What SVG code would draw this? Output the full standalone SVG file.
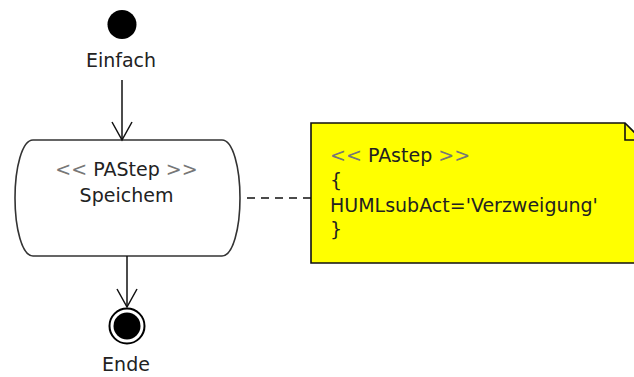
<svg xmlns="http://www.w3.org/2000/svg" width="634" height="377" viewBox="0 0 634 377">
<style>
text{font-family:"DejaVu Sans","Liberation Sans",sans-serif;font-size:19px;fill:#222}
.st{fill:#777}
.edge{stroke:#111;stroke-width:1.5;fill:none}
</style>
<defs>
<marker id="open" viewBox="-20 -11 22 22" refX="0" refY="0" markerWidth="22" markerHeight="22" markerUnits="userSpaceOnUse" orient="auto">
<path d="M-18,-10 L0,0 L-18,10" fill="none" stroke="#111" stroke-width="1.5"/>
</marker>
</defs>
<rect width="634" height="377" fill="#fff"/>
<g id="start">
<circle cx="122" cy="24.5" r="14.5" fill="#000"/>
<text x="121" y="67" text-anchor="middle">Einfach</text>
</g>
<g id="action">
<path d="M33,140 H222 C233,140 240,168 240,198 C240,228 233,256 222,256 H33 C22,256 15,228 15,198 C15,168 22,140 33,140 Z" fill="#fff" stroke="#333" stroke-width="1.6"/>
<text x="126.5" y="176" text-anchor="middle"><tspan class="st">&lt;&lt;</tspan> PAStep <tspan class="st">&gt;&gt;</tspan></text>
<text x="126.5" y="202" text-anchor="middle">Speichem</text>
</g>
<g id="end">
<circle cx="127" cy="326" r="17.5" fill="#fff" stroke="#000" stroke-width="2"/>
<circle cx="127" cy="326" r="13.5" fill="#000"/>
<text x="126" y="371" text-anchor="middle">Ende</text>
</g>
<g id="note">
<path d="M311,123 H625 L642,140 V263 H311 Z" fill="#ffff00" stroke="#111" stroke-width="1.6"/>
<path d="M625,123 V140 H642" fill="none" stroke="#111" stroke-width="1.6"/>
<text x="330" y="162"><tspan class="st">&lt;&lt;</tspan> PAstep <tspan class="st">&gt;&gt;</tspan></text>
<text x="330" y="187">{</text>
<text x="330" y="212">HUMLsubAct='Verzweigung'</text>
<text x="330" y="236">}</text>
</g>
<g id="connectors">
<line class="edge" x1="122" y1="80" x2="122" y2="140" marker-end="url(#open)"/>
<line class="edge" x1="127" y1="256" x2="127" y2="307" marker-end="url(#open)"/>
<line class="edge" x1="247" y1="198" x2="311" y2="198" stroke-dasharray="8,6"/>
</g>
</svg>
